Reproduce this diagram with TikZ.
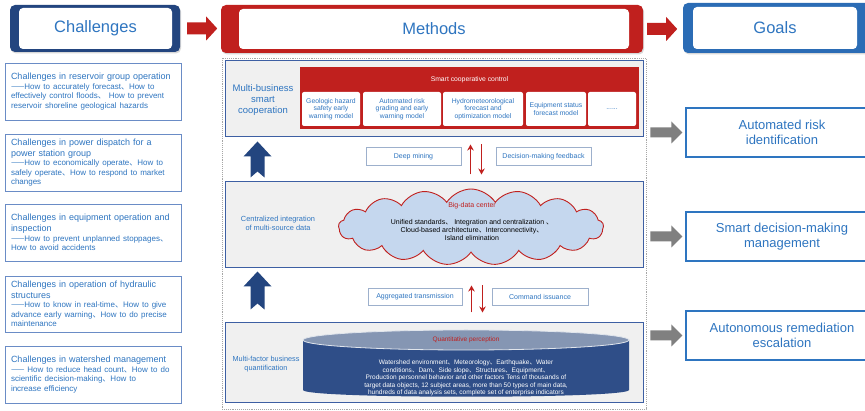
\documentclass[tikz,border=0pt]{standalone}
\usepackage{fontspec}
\setmainfont{Liberation Sans}
\newfontfamily\cjk{Noto Sans CJK SC}
\newcommand{\dn}{{\cjk 、}}
\newcommand{\dsh}{{\cjk ——}}
\usetikzlibrary{shapes.symbols,shadows,arrows.meta}
\definecolor{navy}{HTML}{23457F}
\definecolor{gblue}{HTML}{2B6CB5}
\definecolor{tblue}{HTML}{2E75C0}
\definecolor{mred}{HTML}{C0201E}
\definecolor{bborder}{HTML}{6A8CC6}
\definecolor{lborder}{HTML}{3D5FA3}
\definecolor{lgray}{HTML}{F0F0F0}
\definecolor{cloudfill}{HTML}{C5D7EE}
\definecolor{cylbody}{HTML}{2F4E88}
\definecolor{cyltop}{HTML}{8596B3}
\definecolor{arrgray}{HTML}{808080}
\definecolor{sborder}{HTML}{9DB0CC}
\tikzset{
  hdr/.style={rounded corners=5, inner sep=0, drop shadow={opacity=0.3, shadow xshift=1pt, shadow yshift=-1.5pt}},
  hdrin/.style={fill=white, rounded corners=4, text=tblue, inner sep=0, font=\fontsize{16.5}{18}\selectfont},
  chbox/.style={draw=bborder, line width=0.9, fill=white, minimum width=176, text width=164, inner xsep=6, inner ysep=2, align=left, text=tblue, font=\fontsize{9}{11}\selectfont},
  layer/.style={draw=lborder, line width=1, fill=lgray, minimum width=418, inner sep=0},
  ltext/.style={text=tblue, align=center},
  smallbox/.style={draw=sborder, line width=0.8, fill=white, text=tblue, inner sep=0, minimum height=18, font=\fontsize{7}{8}\selectfont, drop shadow={opacity=0.2, shadow xshift=1pt, shadow yshift=-1pt}},
  modbox/.style={fill=white, rounded corners=2, minimum height=34, inner sep=0, text=tblue, align=center, font=\fontsize{6.8}{7.4}\selectfont},
  goalbox/.style={draw=tblue, line width=1.2, fill=white, minimum width=192, minimum height=49, text=tblue, align=center, font=\fontsize{13}{15}\selectfont},
  redline/.style={draw=mred, line width=1.6, -{Stealth[length=6pt,width=6.5pt]}},
}
\begin{document}
\begin{tikzpicture}[x=1pt,y=-1pt]
\useasboundingbox (0,0) rectangle (865,411);
\fill[white] (0,0) rectangle (865,411);

% ---------- headers ----------
\node[hdr, fill=navy, minimum width=170, minimum height=47] (chout) at (95,28.5) {};
\node[hdrin, minimum width=153, minimum height=41] (chhead) at (95.5,28.5) {Challenges};
\node[hdr, fill=mred, minimum width=422, minimum height=48] (mout) at (432,29) {};
\node[hdrin, minimum width=390, minimum height=40] (mhead) at (434,29) {Methods};
\node[hdr, fill=gblue, minimum width=192, minimum height=50] (gout) at (779,28) {};
\node[hdrin, minimum width=164, minimum height=42] (ghead) at (775,28) {Goals};

\fill[mred] (chout.east) ++(7,-6) -- ++(19,0) -- ++(0,-6) -- ++(11,12) -- ++(-11,12) -- ++(0,-6) -- ++(-19,0) -- cycle;
\fill[mred] (mout.east) ++(4,-6) -- ++(19,0) -- ++(0,-6) -- ++(11,12) -- ++(-11,12) -- ++(0,-6) -- ++(-19,0) -- cycle;

% ---------- challenges ----------
\node[chbox, minimum height=57] (c1) at (93,91.5) {Challenges in reservoir group operation\par
{\fontsize{8}{9.5}\selectfont \dsh How to accurately forecast\dn How to\\effectively control floods\dn\ How to prevent\\reservoir shoreline geological hazards\par}};
\node[chbox, minimum height=57] (c2) at (93,162.5) {Challenges in power dispatch for a\\power station group\par
{\fontsize{8}{9.5}\selectfont \dsh How to economically operate\dn How to\\safely operate\dn How to respond to market\\changes\par}};
\node[chbox, minimum height=57] (c3) at (93,232.5) {Challenges in equipment operation and\\inspection\par
{\fontsize{8}{9.5}\selectfont \dsh How to prevent unplanned stoppages\dn\\How to avoid accidents\par}};
\node[chbox, minimum height=56] (c4) at (93,304) {Challenges in operation of hydraulic\\structures\par
{\fontsize{8}{9.5}\selectfont \dsh How to know in real-time\dn How to give\\advance early warning\dn How to do precise\\maintenance\par}};
\node[chbox, minimum height=57] (c5) at (93,374.5) {Challenges in watershed management\par
{\fontsize{8}{9.5}\selectfont \dsh\ How to reduce head count\dn How to do\\scientific decision-making\dn How to\\increase efficiency\par}};

% ---------- methods frame ----------
\node[draw=gray!70, densely dotted, line width=0.9, minimum width=424, minimum height=351, inner sep=0] (mframe) at (434,233.5) {};

\node[layer, minimum height=76] (L1) at (434,99) {};
\node[layer, minimum height=86] (L2) at (434,225) {};
\node[layer, minimum height=80] (L3) at (434,363) {};

% layer 1
\node[ltext, font=\fontsize{9.5}{11}\selectfont] (L1t) at (263,100) {Multi-business\\smart\\cooperation};
\node[fill=mred, minimum width=339, minimum height=62, inner sep=0] (rpanel) at (469.5,98) {};
\node[text=white, font=\fontsize{6.8}{8}\selectfont] (rtitle) at (469.5,80) {Smart cooperative control};
\node[modbox, minimum width=58] (m1) at (331,109) {Geologic hazard\\safety early\\warning model};
\node[modbox, minimum width=78] (m2) at (402,109) {Automated risk\\grading and early\\warning model};
\node[modbox, minimum width=80] (m3) at (483,109) {Hydrometeorological\\forecast and\\optimization model};
\node[modbox, minimum width=60] (m4) at (556,109) {Equipment status\\forecast model};
\node[modbox, minimum width=48] (m5) at (612,109) {......};

% gap 1
\node[smallbox, minimum width=95] (dm) at (413.5,156.5) {Deep mining};
\node[smallbox, minimum width=95] (df) at (543.5,156.5) {Decision-making feedback};
\draw[redline] ([shift={(246,-7)}]L2.north west) -- ([shift={(246,7)}]L1.south west);
\draw[redline] ([shift={(257,7)}]L1.south west) -- ([shift={(257,-7)}]L2.north west);
\fill[navy] ([shift={(26,-4)}]L2.north west) -- ++(0,-21) -- ++(-7,0) -- ++(14,-15) -- ++(14,15) -- ++(-7,0) -- ++(0,21) -- ++(-7,-6) -- cycle;

% layer 2
\node[ltext, font=\fontsize{7.4}{9}\selectfont] (L2t) at (278,223) {Centralized integration\\of multi-source data};
\node[cloud, cloud puffs=17, cloud puff arc=115, aspect=3.4, fill=cloudfill, draw=mred, line width=0.9, minimum width=265, minimum height=76, inner sep=0] (cloud) at (471,227) {};
\node[text=mred, font=\fontsize{7}{8}\selectfont] (bdc) at (472,206) {Big-data center};
\node[align=center, font=\fontsize{7}{8}\selectfont] (bdt) at (472,230) {Unified standards\dn\ Integration and centralization \dn\\Cloud-based architecture\dn Interconnectivity\dn\\Island elimination};

% gap 2
\node[smallbox, minimum width=94, minimum height=17] (at) at (415,296.5) {Aggregated transmission};
\node[smallbox, minimum width=96, minimum height=17] (ci) at (540,296.5) {Command issuance};
\draw[redline] ([shift={(247,-10)}]L3.north west) -- ([shift={(247,17)}]L2.south west);
\draw[redline] ([shift={(258,17)}]L2.south west) -- ([shift={(258,-10)}]L3.north west);
\fill[navy] ([shift={(26,-13)}]L3.north west) -- ++(0,-23) -- ++(-7,0) -- ++(14,-15) -- ++(14,15) -- ++(-7,0) -- ++(0,23) -- ++(-7,-6) -- cycle;

% layer 3
\node[ltext, font=\fontsize{7.3}{9}\selectfont] (L3t) at (266,364) {Multi-factor business\\quantification};
\fill[cylbody] (303,340) -- (303,390) .. controls (303,399) and (629,399) .. (629,390) -- (629,340) -- cycle;
\filldraw[fill=cyltop, draw=white!75!cyltop, line width=0.8] (466,340) ellipse [x radius=163, y radius=10];
\node[text=mred, font=\fontsize{6.5}{7.5}\selectfont] (qp) at (466,340) {Quantitative perception};
\node[text=white, align=center, font=\fontsize{6.5}{7.5}\selectfont] (qt) at (466,378) {Watershed environment\dn Meteorology\dn Earthquake\dn Water\\conditions\dn Dam\dn Side slope\dn Structures\dn Equipment\dn\\Production personnel behavior and other factors Tens of thousands of\\target data objects, 12 subject areas, more than 50 types of main data,\\hundreds of data analysis sets, complete set of enterprise indicators};

% ---------- goals ----------
\node[goalbox] (g1) at (782,132.5) {Automated risk\\identification};
\node[goalbox] (g2) at (782,236.5) {Smart decision-making\\management};
\node[goalbox] (g3) at (782,335.5) {Autonomous remediation\\escalation};
\foreach \g in {g1,g2,g3}{
  \fill[arrgray] (mframe.east |- \g.west) ++(4,-5) -- ++(21,0) -- ++(0,-6) -- ++(11,11) -- ++(-11,11) -- ++(0,-6) -- ++(-21,0) -- cycle;
}
\end{tikzpicture}
\end{document}
